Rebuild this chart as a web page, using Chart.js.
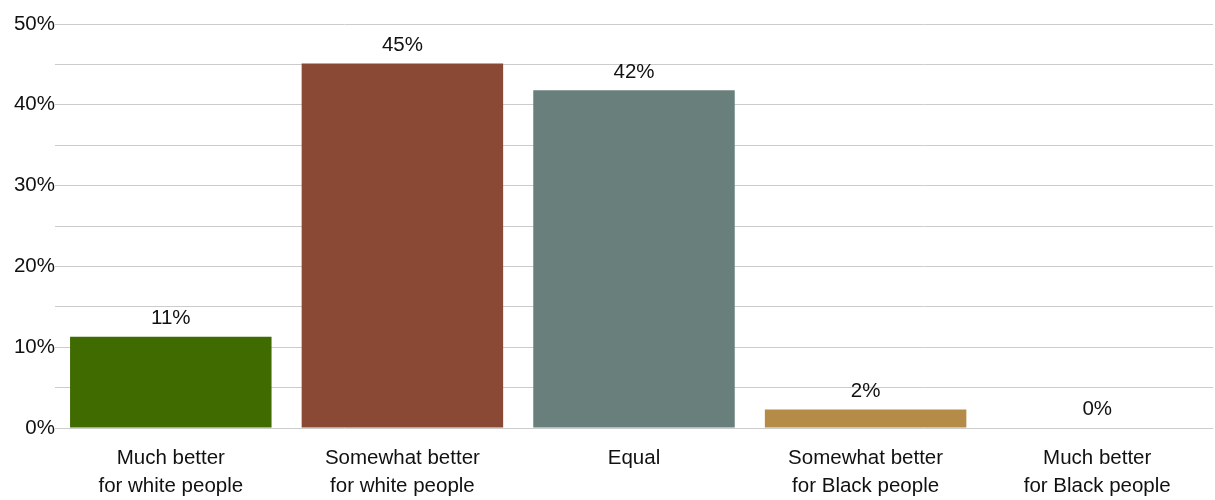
<!DOCTYPE html>
<html>
<head>
<meta charset="utf-8">
<script src="https://cdn.jsdelivr.net/npm/chart.js@4"></script>
<style>
  html, body { margin: 0; padding: 0; background: #fff; }
  #wrap { width: 1215px; height: 500px; }
</style>
</head>
<body>
<div id="wrap"><canvas id="chart" width="1215" height="500"></canvas></div>
<script>
const categories = [
    ["Much better", "for white people"],
    ["Somewhat better", "for white people"],
    "Equal",
    ["Somewhat better", "for Black people"],
    ["Much better", "for Black people"]
]
const values = [11.3, 45.1, 41.8, 2.3, 0]
const valueLabels = ["11%", "45%", "42%", "2%", "0%"]
const barColors = ["#3f6b00", "#8a4935", "#687f7b", "#b58c47", "#b58c47"]
const tickLabels = { 0: "0%", 10: "10%", 20: "20%", 30: "30%", 40: "40%", 50: "50%" }

const FONT = "'Liberation Sans', Arial, sans-serif"
const SIZE = 20.5

// draws the value text above each bar
const valueLabelPlugin = {
    id: "valueLabels",
    afterDatasetsDraw(chart){
        const ctx = chart.ctx
        const meta = chart.getDatasetMeta(0)
        ctx.save()
        ctx.font = SIZE + "px " + FONT
        ctx.fillStyle = "#111"
        ctx.textAlign = "center"
        ctx.textBaseline = "bottom"
        meta.data.forEach((bar, i) => {
            ctx.fillText(valueLabels[i], bar.x, bar.y - 8)
        })
        ctx.restore()
    }
}

new Chart(document.getElementById("chart"), {
    type: "bar",
    data: {
        labels: categories,
        datasets: [{
            data: values,
            backgroundColor: barColors,
            categoryPercentage: 1,
            barPercentage: 0.87
        }]
    },
    options: {
        responsive: false,
        animation: false,
        layout: { padding: { top: 24, right: 2, left: 0, bottom: 0 } },
        plugins: {
            legend: { display: false },
            tooltip: { enabled: false }
        },
        scales: {
            x: {
                grid: { display: false },
                border: { display: false },
                ticks: {
                    color: "#111",
                    font: { family: FONT, size: SIZE, lineHeight: 1.38 },
                    maxRotation: 0,
                    padding: 8
                },
                afterFit: scale => { scale.height = 72 }
            },
            y: {
                min: 0,
                max: 50,
                border: { display: false },
                grid: { color: "#cccccc", lineWidth: 1, drawTicks: false },
                ticks: {
                    stepSize: 5,
                    color: "#111",
                    font: { family: FONT, size: SIZE },
                    padding: 0,
                    callback: v => tickLabels[v] || ""
                },
                afterFit: scale => { scale.width = 55 }
            }
        }
    },
    plugins: [valueLabelPlugin]
})
</script>
</body>
</html>
